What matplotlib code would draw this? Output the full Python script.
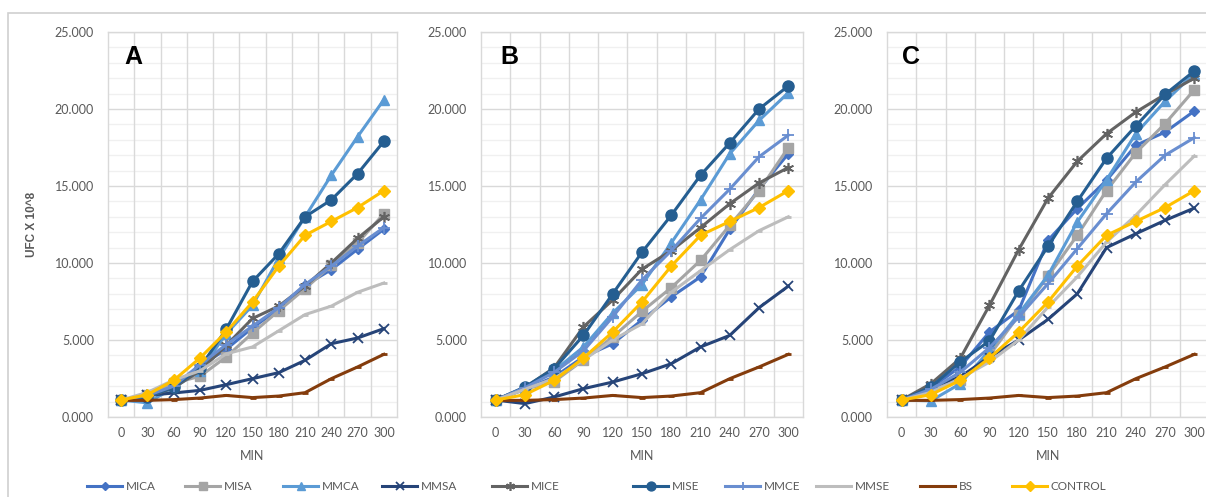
import matplotlib
matplotlib.use("Agg")
import matplotlib.pyplot as plt
from matplotlib.patches import Rectangle
from matplotlib.ticker import FuncFormatter, MultipleLocator

plt.rcParams['font.family'] = ['Lato', 'DejaVu Sans']

minutes = ["0", "30", "60", "90", "120", "150", "180", "210", "240", "270", "300"]
series_names = ["MICA", "MISA", "MMCA", "MMSA", "MICE", "MISE", "MMCE", "MMSE", "BS", "CONTROL"]

control = [1.1, 1.45, 2.38, 3.83, 5.52, 7.47, 9.8, 11.8, 12.7, 13.6, 14.7]
bs = [1.08, 1.08, 1.13, 1.23, 1.4, 1.26, 1.36, 1.58, 2.49, 3.25, 4.07]

# Panel A
a_mica = [1.1, 1.3, 1.9, 3.3, 4.4, 5.8, 7.0, 8.55, 9.57, 10.9, 12.2]
a_misa = [1.1, 1.4, 2.2, 2.64, 3.9, 5.45, 6.9, 8.33, 9.85, 11.3, 13.2]
a_mmca = [1.1, 0.92, 1.9, 3.0, 5.4, 7.25, 10.3, 13.0, 15.7, 18.2, 20.6]
a_mmsa = [1.1, 1.4, 1.56, 1.73, 2.1, 2.49, 2.88, 3.68, 4.76, 5.13, 5.74]
a_mice = [1.1, 1.3, 1.9, 3.0, 4.65, 6.4, 7.2, 8.5, 10.0, 11.6, 13.0]
a_mise = [1.1, 1.3, 1.95, 3.2, 5.7, 8.8, 10.6, 13.0, 14.1, 15.8, 17.9]
a_mmce = [1.1, 1.4, 2.0, 3.4, 4.7, 5.9, 7.1, 8.6, 9.8, 11.1, 12.3]
a_mmse = [1.1, 1.6, 2.4, 3.0, 4.1, 4.55, 5.6, 6.65, 7.2, 8.1, 8.7]

# Panel B
b_mica = [1.1, 1.8, 2.6, 3.9, 4.76, 6.3, 7.8, 9.1, 12.2, 14.8, 17.1]
b_misa = [1.1, 1.8, 2.3, 3.7, 5.2, 6.86, 8.4, 10.17, 12.45, 14.7, 17.5]
b_mmca = [1.1, 1.9, 3.0, 4.55, 6.75, 8.6, 11.3, 14.1, 17.1, 19.26, 21.06]
b_mmsa = [1.1, 0.87, 1.3, 1.84, 2.27, 2.81, 3.46, 4.55, 5.3, 7.1, 8.5]
b_mice = [1.1, 1.9, 3.2, 5.85, 7.6, 9.6, 10.8, 12.3, 13.85, 15.2, 16.2]
b_mise = [1.1, 1.95, 3.14, 5.3, 8.0, 10.7, 13.1, 15.7, 17.8, 20.0, 21.5]
b_mmce = [1.1, 1.9, 2.9, 4.3, 6.5, 8.9, 10.8, 12.9, 14.8, 16.9, 18.3]
b_mmse = [1.1, 1.8, 2.5, 3.7, 5.0, 6.05, 8.1, 9.5, 10.87, 12.1, 13.0]

# Panel C
c_mica = [1.1, 1.9, 3.25, 5.52, 6.93, 11.47, 13.53, 15.37, 17.64, 18.5, 19.87]
c_misa = [1.1, 1.9, 2.4, 4.0, 6.6, 9.13, 11.8, 14.7, 17.16, 19.05, 21.25]
c_mmca = [1.1, 1.05, 2.16, 4.33, 6.7, 9.2, 12.66, 15.4, 18.4, 20.5, 22.3]
c_mmsa = [1.1, 1.95, 2.6, 3.9, 5.0, 6.34, 8.0, 11.0, 11.9, 12.77, 13.57]
c_mice = [1.1, 2.16, 3.8, 7.25, 10.87, 14.2, 16.6, 18.4, 19.8, 20.95, 22.0]
c_mise = [1.1, 1.95, 3.57, 4.94, 8.2, 11.08, 14.0, 16.8, 18.9, 20.95, 22.47]
c_mmce = [1.1, 1.8, 2.9, 4.5, 6.5, 8.66, 10.93, 13.2, 15.26, 17.0, 18.14]
c_mmse = [1.1, 1.6, 2.5, 3.57, 5.0, 7.14, 9.1, 11.36, 13.1, 15.09, 16.95]

panels = {
    "A": [a_mica, a_misa, a_mmca, a_mmsa, a_mice, a_mise, a_mmce, a_mmse, bs, control],
    "B": [b_mica, b_misa, b_mmca, b_mmsa, b_mice, b_mise, b_mmce, b_mmse, bs, control],
    "C": [c_mica, c_misa, c_mmca, c_mmsa, c_mice, c_mise, c_mmce, c_mmse, bs, control],
}

styles = {
    "MICA": dict(color="#4472C4", marker="D", ms=5.5),
    "MISA": dict(color="#A5A5A5", marker="s", ms=7),
    "MMCA": dict(color="#5B9BD5", marker="^", ms=7),
    "MMSA": dict(color="#264478", marker="x", ms=7, mew=1.3),
    "MICE": dict(color="#636363", marker=(6, 2, 0), ms=8, mew=1.2),
    "MISE": dict(color="#255E91", marker="o", ms=8),
    "MMCE": dict(color="#698ED0", marker="+", ms=8, mew=1.3),
    "MMSE": dict(color="#BDBDBD", marker="_", ms=5, mew=2),
    "BS": dict(color="#843C0C", marker="_", ms=5, mew=2),
    "CONTROL": dict(color="#FFC000", marker="D", ms=6),
}

W, H = 1206, 497
fig = plt.figure(figsize=(W / 100, H / 100), dpi=100)

# outer frame
fig.patches.append(Rectangle((8 / W, -0.1), 1.2, (H - 13) / H + 0.1, transform=fig.transFigure,
                             fill=False, edgecolor="#D0D0D0", lw=1.2))

axes_px = {"A": (108, 397), "B": (481, 803), "C": (887, 1209)}
top_px, bot_px = 32, 417
letter_x = {"A": 133, "B": 509, "C": 911}
text_col = "#595959"
grid_major = "#D9D9D9"
grid_minor = "#F0F0F0"

handles = None
for key, data in panels.items():
    l, r = axes_px[key]
    ax = fig.add_axes([l / W, 1 - bot_px / H, (r - l) / W, (bot_px - top_px) / H])
    xs = list(range(len(minutes)))
    hs = []
    for i, (name, ys) in enumerate(zip(series_names, data)):
        st = styles[name]
        h, = ax.plot(xs, ys, color=st["color"], lw=2.2, marker=st["marker"], ms=st["ms"],
                     mew=st.get("mew", 1.0), mec=st["color"], mfc=st["color"],
                     zorder=3 + i, label=name, solid_joinstyle="round")
        hs.append(h)
    if handles is None:
        handles = hs
    ax.set_xlim(-0.5, len(minutes) - 0.5)
    ax.set_ylim(0, 25)
    ax.yaxis.set_major_locator(MultipleLocator(5))
    ax.yaxis.set_minor_locator(MultipleLocator(1))
    ax.yaxis.set_major_formatter(FuncFormatter(lambda v, p: f"{v:.3f}"))
    ax.set_xticks(xs)
    ax.set_xticklabels(minutes)
    ax.grid(which="major", axis="y", color=grid_major, lw=1.0, zorder=1)
    ax.grid(which="minor", axis="y", color=grid_minor, lw=1.0, zorder=0)
    for xv in xs[:-1]:
        ax.axvline(xv + 0.5, color=grid_major, lw=1.0, zorder=1)
    ax.set_axisbelow(True)
    for sp in ax.spines.values():
        sp.set_color(grid_major)
        sp.set_linewidth(1.0)
    ax.tick_params(axis="both", which="both", length=0, colors=text_col, labelsize=9)
    ax.tick_params(axis="y", pad=10)
    ax.tick_params(axis="x", pad=7)
    ax.set_xlabel("MIN", color=text_col, fontsize=9, labelpad=8)
    if key == "A":
        ax.set_ylabel("UFC X 10^8", color=text_col, fontsize=8.5, fontweight="bold", labelpad=12,
                      family=["Liberation Sans", "DejaVu Sans"])
    fig.text(letter_x[key] / W, 1 - 57 / H, key, fontsize=18, fontweight="bold",
             ha="center", va="center", family=["Liberation Sans", "DejaVu Sans"])

legend_x = [87, 185, 283, 382, 492, 633, 725, 816, 920, 1012]
for h, xp in zip(handles, legend_x):
    leg = fig.legend(handles=[h], loc="center left", bbox_to_anchor=(xp / W, 1 - 487 / H),
                     frameon=False, fontsize=8.5, handlelength=3.0, handletextpad=0.3,
                     borderpad=0, borderaxespad=0, labelcolor=text_col, markerscale=0.8)

fig.savefig("out.png", dpi=100)
